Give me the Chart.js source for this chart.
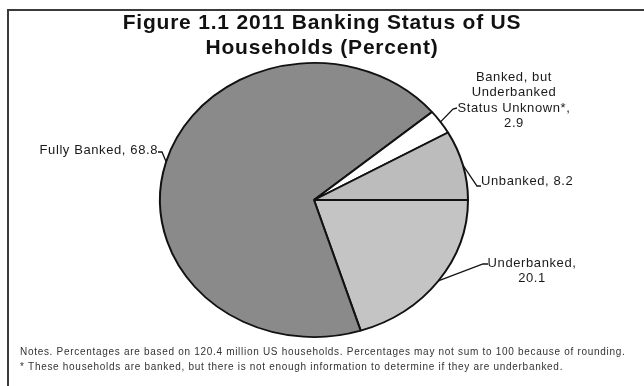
<!DOCTYPE html>
<html>
<head>
<meta charset="utf-8">
<script src="https://cdn.jsdelivr.net/npm/chart.js@4/dist/chart.umd.min.js"></script>
<style>
  body { margin: 0; background: #fff; }
  canvas { display: block; }
</style>
</head>
<body>
<canvas id="bankingChart" width="644" height="386"></canvas>
<script>
// slices go clockwise starting at 3 o'clock
const categories = ["Underbanked", "Fully Banked", "Banked, but Underbanked Status Unknown*", "Unbanked"];
const shares = [20.1, 68.8, 2.9, 8.2];
const sliceColors = ["#c4c4c4", "#8a8a8a", "#ffffff", "#bcbcbc"];

const titleLines = ["Figure 1.1 2011 Banking Status of US", "Households (Percent)"];
const noteLines = [
  "Notes. Percentages are based on 120.4 million US households. Percentages may not sum to 100 because of rounding.",
  "* These households are banked, but there is not enough information to determine if they are underbanked."
];

// label text for each slice
const labelLines = [
  ["Underbanked,", `${shares[0]}`],
  [`Fully Banked, ${shares[1]}`],
  ["Banked, but", "Underbanked", "Status Unknown*,", `${shares[2]}`],
  [`Unbanked, ${shares[3]}`]
];

// where each label sits and how its leader bends
const labelPlace = [
  { x: 532, y: 263, align: "center", bend: [483, 264], tip: [488, 264] },
  { x: 158, y: 150, align: "right", bend: [162, 152], tip: [158, 152] },
  { x: 514, y: 77, align: "center", bend: [453, 109], tip: [457, 108] },
  { x: 481, y: 181, align: "left", bend: [477, 186], tip: [481, 186] }
];

const squash = 0.89; // the printed pie is a bit flatter than round
const font = '"Liberation Sans", Arial, sans-serif';

const pieLook = {
  id: "pieLook",
  beforeDraw(chart) {
    const ctx = chart.ctx;
    ctx.save();
    ctx.fillStyle = "#fff";
    ctx.fillRect(0, 0, chart.width, chart.height);
    ctx.strokeStyle = "#3a3a3a";
    ctx.lineWidth = 2;
    ctx.beginPath();
    ctx.moveTo(8, chart.height);
    ctx.lineTo(8, 10);
    ctx.lineTo(chart.width, 10);
    ctx.stroke();

    ctx.fillStyle = "#111";
    ctx.font = "bold 21px " + font;
    ctx.letterSpacing = "0.8px";
    ctx.textAlign = "center";
    ctx.textBaseline = "middle";
    ctx.fillText(titleLines[0], 322, 23);
    ctx.fillText(titleLines[1], 322, 48);

    ctx.fillStyle = "#333";
    ctx.font = "10px " + font;
    ctx.textAlign = "left";
    ctx.letterSpacing = "0.7px";
    ctx.fillText(noteLines[0], 20, 352);
    ctx.fillText(noteLines[1], 20, 367);
    ctx.restore();
  },
  beforeDatasetsDraw(chart) {
    const arc = chart.getDatasetMeta(0).data[0];
    const ctx = chart.ctx;
    ctx.save();
    ctx.translate(arc.x, arc.y);
    ctx.scale(1, squash);
    ctx.translate(-arc.x, -arc.y);
  },
  afterDatasetsDraw(chart) {
    const ctx = chart.ctx;
    ctx.restore();
    ctx.save();
    chart.getDatasetMeta(0).data.forEach((arc, i) => {
      const mid = (arc.startAngle + arc.endAngle) / 2;
      const ex = arc.x + Math.cos(mid) * arc.outerRadius;
      const ey = arc.y + Math.sin(mid) * arc.outerRadius * squash;
      const p = labelPlace[i];
      ctx.strokeStyle = "#111";
      ctx.lineWidth = 1.3;
      ctx.beginPath();
      ctx.moveTo(ex, ey);
      ctx.lineTo(p.bend[0], p.bend[1]);
      ctx.lineTo(p.tip[0], p.tip[1]);
      ctx.stroke();

      ctx.fillStyle = "#1a1a1a";
      ctx.font = "13px " + font;
      ctx.letterSpacing = "0.6px";
      ctx.textAlign = p.align;
      ctx.textBaseline = "middle";
      labelLines[i].forEach((line, k) => {
        ctx.fillText(line, p.x, p.y + k * 15.5);
      });
    });
    ctx.restore();
  }
};

new Chart(document.getElementById("bankingChart"), {
  type: "pie",
  data: {
    labels: categories,
    datasets: [{
      data: shares,
      backgroundColor: sliceColors,
      borderColor: "#111",
      borderWidth: 2
    }]
  },
  options: {
    responsive: false,
    animation: false,
    rotation: 90,
    layout: { padding: { left: 159, right: 175, top: 45, bottom: 31 } },
    plugins: {
      legend: { display: false },
      tooltip: { enabled: false }
    }
  },
  plugins: [pieLook]
});
</script>
</body>
</html>
